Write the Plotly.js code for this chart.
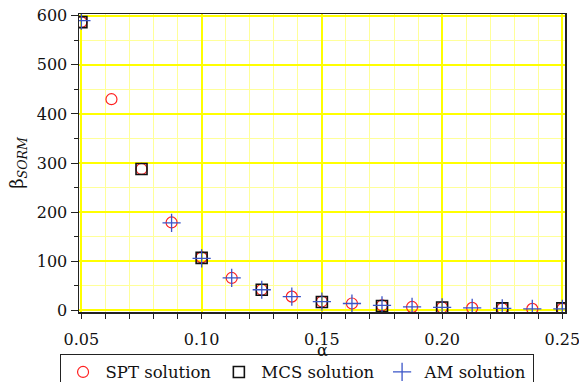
<!DOCTYPE html>
<html><head><meta charset="utf-8">
<script src="https://cdn.plot.ly/plotly-3.0.1.min.js"></script>
<style>html,body{margin:0;padding:0;background:#fff}#chart{width:579px;height:382px}</style>
</head><body><div id="chart"></div>
<script>
// alpha values
var alphaSPT = [0.05,0.0625,0.075,0.0875,0.1,0.1125,0.125,0.1375,0.15,0.1625,0.175,0.1875,0.2,0.2125,0.225,0.2375,0.25];
var betaSPT  = [587,430,288,179,108,66,42,28,18,14,10,7,6,5,4,3,3];
var alphaMCS = [0.05,0.075,0.1,0.125,0.15,0.175,0.2,0.225,0.25];
var betaMCS  = [587,288,107,42,17,9,6,4,4];
var alphaAM  = [0.05,0.0875,0.1,0.1125,0.125,0.1375,0.15,0.1625,0.175,0.1875,0.2,0.2125,0.225,0.2375,0.25];
var betaAM   = [590,178,106,66,42,28,18,14,10,7,6,5,4,3,3];
var seriesNames = ['SPT solution','MCS solution','AM solution'];
var xMajorTicks = [0.05,0.10,0.15,0.20,0.25];
var xMajorText = ['0.05','0.10','0.15','0.20','0.25'];
var xMinorTicks = [0.06,0.07,0.08,0.09,0.11,0.12,0.13,0.14,0.16,0.17,0.18,0.19,0.21,0.22,0.23,0.24];
var yMinorTicks = [50,150,250,350,450,550];

var font = 'DejaVu Serif, Liberation Serif, serif';
var traces = [
  {x: alphaSPT, y: betaSPT, name: seriesNames[0], type:'scatter', mode:'markers',
   marker:{symbol:'circle-open', size:11, color:'#ff2020', line:{width:1.2, color:'#ff2020'}}},
  {x: alphaMCS, y: betaMCS, name: seriesNames[1], type:'scatter', mode:'markers',
   marker:{symbol:'square-open', size:11, color:'#111111', line:{width:1.6, color:'#111111'}}},
  {x: alphaAM, y: betaAM, name: seriesNames[2], type:'scatter', mode:'markers',
   marker:{symbol:'cross-thin-open', size:13, color:'#3a55c8', line:{width:1.3, color:'#3a55c8'}}}
];
var layout = {
  width:579, height:382,
  margin:{l:79, r:14, t:14, b:70, autoexpand:false},
  paper_bgcolor:'#fff', plot_bgcolor:'#fff',
  font:{family:font, size:16, color:'#111'},
  showlegend:true,
  legend:{orientation:'h', x:-0.040, xanchor:'left', y:-0.14, yanchor:'top',
    bordercolor:'#222', borderwidth:1, font:{family:font, size:16.5, color:'#111'}, bgcolor:'#fff',
    itemwidth:35},
  annotations:[{text:'α', xref:'paper', yref:'paper', x:0.5, y:-0.13, xanchor:'center', yanchor:'middle',
    showarrow:false, font:{family:font, size:16, color:'#111'}}],
  xaxis:{range:[0.049,0.2511], tickmode:'array', tickvals:xMajorTicks, ticktext:xMajorText,
    ticklabeloverflow:'allow', ticklabelstandoff:7,
    showline:true, linecolor:'#222', linewidth:1.5, mirror:true,
    ticks:'outside', ticklen:5, tickcolor:'#222', tickwidth:1,
    showgrid:true, gridcolor:'#ffff00', gridwidth:2, zeroline:false,
    minor:{tickmode:'array', tickvals:xMinorTicks, ticks:'outside', ticklen:5, tickcolor:'#222', showgrid:true, gridcolor:'#ffff99', gridwidth:1}},
  yaxis:{range:[-3.3,603.5], dtick:100, tick0:0,
    showline:true, linecolor:'#222', linewidth:1.5, mirror:true,
    ticks:'outside', ticklen:7, tickcolor:'#222', tickwidth:1,
    showgrid:true, gridcolor:'#ffff00', gridwidth:2, zeroline:false,
    minor:{tickmode:'array', tickvals:yMinorTicks, ticks:'outside', ticklen:3.5, tickcolor:'#222', showgrid:true, gridcolor:'#ffff99', gridwidth:1},
    title:{text:'β<sub><i>SORM</i></sub>', font:{family:font, size:18}, standoff:8}}
};
Plotly.newPlot('chart', traces, layout, {displayModeBar:false, staticPlot:true});
</script></body></html>
